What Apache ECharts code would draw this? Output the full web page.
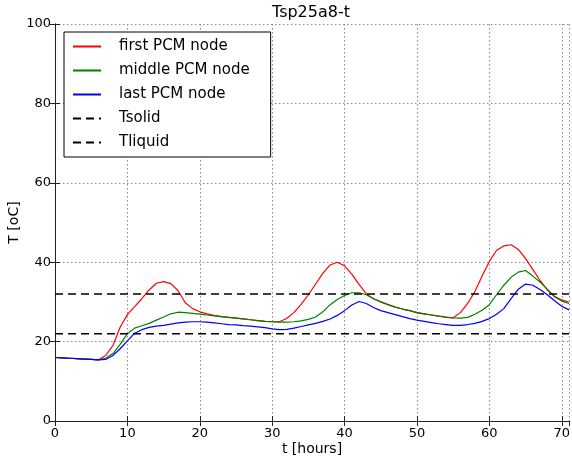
<!DOCTYPE html>
<html>
<head>
<meta charset="utf-8">
<script src="https://cdn.jsdelivr.net/npm/echarts@6/dist/echarts.min.js"></script>
<style>html,body{margin:0;padding:0;background:#fff}#c{width:572px;height:461px}</style>
</head>
<body>
<div id="c"></div>
<script>
// time in hours
var hours = [];
for (var i = 0; i <= 71; i++) hours.push(i);

var firstNode = [16.0,15.9,15.8,15.7,15.6,15.5,15.4,16.5,19.0,23.6,26.8,28.8,30.8,33.0,34.7,35.1,34.6,32.8,29.8,28.3,
  27.5,27.0,26.6,26.3,26.1,25.9,25.7,25.5,25.3,25.1,25.0,25.0,25.8,27.3,29.4,31.8,34.5,37.2,39.3,40.0,
  39.1,37.0,34.4,32.0,30.8,30.0,29.3,28.7,28.2,27.8,27.3,27.0,26.7,26.4,26.1,26.0,27.3,29.6,32.6,36.5,
  40.2,43.0,44.1,44.4,43.2,40.9,38.2,35.4,33.0,31.4,30.5,29.9];
var middleNode = [16.0,15.9,15.8,15.7,15.6,15.5,15.4,15.8,17.0,19.3,22.0,23.4,24.0,24.6,25.4,26.2,27.0,27.4,27.3,27.1,
  26.9,26.7,26.5,26.3,26.1,25.9,25.7,25.5,25.3,25.1,25.0,24.9,24.9,25.0,25.2,25.6,26.2,27.5,29.3,30.6,
  31.6,32.3,32.3,31.8,30.8,30.0,29.3,28.7,28.2,27.8,27.3,27.0,26.7,26.4,26.2,26.0,25.9,26.1,26.9,27.9,
  29.3,31.8,34.2,36.2,37.5,37.9,36.5,35.0,33.2,31.3,30.2,29.6];
var lastNode = [16.0,15.9,15.8,15.7,15.6,15.5,15.4,15.5,16.5,18.2,20.2,22.1,23.0,23.6,23.9,24.1,24.4,24.7,24.9,25.0,
  25.0,24.9,24.7,24.5,24.3,24.2,24.0,23.9,23.7,23.5,23.2,23.0,23.1,23.4,23.8,24.2,24.6,25.1,25.7,26.6,
  27.8,29.2,30.1,29.6,28.6,27.8,27.3,26.8,26.3,25.8,25.4,25.1,24.8,24.5,24.3,24.1,24.1,24.3,24.6,25.1,
  25.8,26.9,28.3,30.8,33.2,34.5,34.2,33.1,31.8,30.3,28.9,28.0];
var tSolid = 22;
var tLiquid = 32;
var tRange = [0, 71];

function pairs(ys) { return hours.map(function (h, k) { return [h, ys[k]]; }); }
function flat(v) { return [[tRange[0], v], [tRange[1], v]]; }

var font = 'DejaVu Sans';
var frame = { show: true, lineStyle: { color: '#222', width: 1 } };
var tick = { show: true, inside: true, length: 5, lineStyle: { color: '#222' } };
var chart = echarts.init(document.getElementById('c'));
chart.setOption({
  animation: false,
  backgroundColor: '#fff',
  title: { text: 'Tsp25a8-t', left: 272, top: 5, padding: 0,
    textStyle: { fontFamily: font, fontSize: 16, fontWeight: 'normal', color: '#000' } },
  grid: { left: 55, right: 3, top: 24, bottom: 40, containLabel: false, outerBoundsMode: 'none' },
  legend: {
    orient: 'vertical', left: 64, top: 32, padding: [7, 21, 7, 8], itemGap: 9,
    itemWidth: 28, itemHeight: 14, borderColor: '#000', borderWidth: 1, backgroundColor: '#fff',
    itemStyle: { opacity: 0 },
    textStyle: { fontFamily: font, fontSize: 15, lineHeight: 15, color: '#000', padding: [0, 0, 0, 13] },
    data: ['first PCM node', 'middle PCM node', 'last PCM node', 'Tsolid', 'Tliquid']
  },
  xAxis: [{
    type: 'value', min: tRange[0], max: tRange[1], interval: 10,
    name: 't [hours]', nameLocation: 'middle', nameGap: 21, nameMoveOverlap: false,
    nameTextStyle: { fontFamily: font, fontSize: 14, color: '#000' },
    axisLine: frame, axisTick: tick,
    axisLabel: { fontFamily: font, fontSize: 13, color: '#000', margin: 6, showMaxLabel: false },
    splitLine: { show: true, lineStyle: { color: '#888', type: [1.5, 2.5], width: 1 } }
  }, {
    type: 'value', position: 'top', min: tRange[0], max: tRange[1], interval: 10,
    axisLine: frame, axisTick: tick, axisLabel: { show: false }, splitLine: { show: false }
  }],
  yAxis: [{
    type: 'value', min: 0, max: 100, interval: 20,
    name: 'T [oC]', nameLocation: 'middle', nameGap: 34, nameMoveOverlap: false,
    nameTextStyle: { fontFamily: font, fontSize: 14, color: '#000' },
    axisLine: frame, axisTick: tick,
    axisLabel: { fontFamily: font, fontSize: 13, color: '#000', margin: 4 },
    splitLine: { show: true, lineStyle: { color: '#888', type: [1.5, 2.5], width: 1 } }
  }, {
    type: 'value', position: 'right', min: 0, max: 100, interval: 20,
    axisLine: frame, axisTick: tick, axisLabel: { show: false }, splitLine: { show: false }
  }],
  series: [
    { name: 'first PCM node', type: 'line', data: pairs(firstNode), showSymbol: false, symbol: 'none',
      lineStyle: { color: '#ff0000', width: 1.2 }, itemStyle: { color: '#ff0000' } },
    { name: 'middle PCM node', type: 'line', data: pairs(middleNode), showSymbol: false, symbol: 'none',
      lineStyle: { color: '#008000', width: 1.2 }, itemStyle: { color: '#008000' } },
    { name: 'last PCM node', type: 'line', data: pairs(lastNode), showSymbol: false, symbol: 'none',
      lineStyle: { color: '#0000ff', width: 1.2 }, itemStyle: { color: '#0000ff' } },
    { name: 'Tsolid', type: 'line', data: flat(tSolid), showSymbol: false, symbol: 'none',
      lineStyle: { color: '#000', width: 1.5, type: [8, 5] }, itemStyle: { color: '#000' } },
    { name: 'Tliquid', type: 'line', data: flat(tLiquid), showSymbol: false, symbol: 'none',
      lineStyle: { color: '#000', width: 1.5, type: [8, 5] }, itemStyle: { color: '#000' } }
  ]
});
</script>
</body>
</html>
